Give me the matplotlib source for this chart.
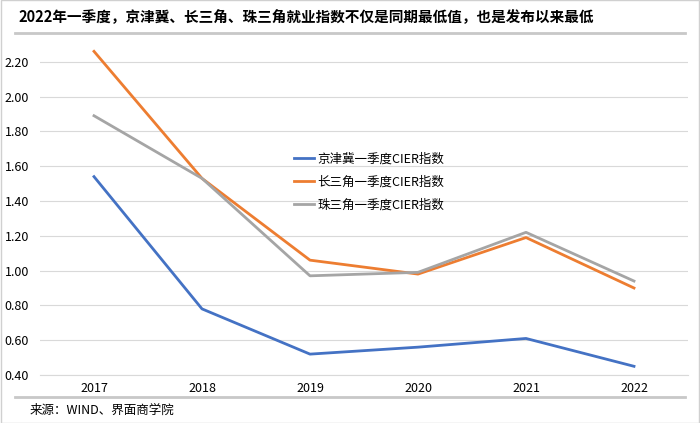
import matplotlib.pyplot as plt
from matplotlib.lines import Line2D

plt.rcParams['font.family'] = ['Noto Sans CJK SC', 'DejaVu Sans']

years = ['2017', '2018', '2019', '2020', '2021', '2022']
jjj = [1.54, 0.78, 0.52, 0.56, 0.61, 0.45]
csj = [2.26, 1.53, 1.06, 0.98, 1.19, 0.90]
zsj = [1.89, 1.53, 0.97, 0.99, 1.22, 0.94]
names = ['京津冀一季度CIER指数', '长三角一季度CIER指数', '珠三角一季度CIER指数']
colors = ['#4472C4', '#ED7D31', '#A5A5A5']
yticks = [0.40, 0.60, 0.80, 1.00, 1.20, 1.40, 1.60, 1.80, 2.00, 2.20]

fig = plt.figure(figsize=(7, 4.23), dpi=100)
ax = fig.add_axes([40 / 700, 1 - 375 / 423, 648 / 700, (375 - 45) / 423])

x = list(range(len(years)))
for vals, c in zip([jjj, csj, zsj], colors):
    ax.plot(x, vals, color=c, lw=2)

ax.set_xlim(-0.5, len(years) - 0.5)
ax.set_ylim(0.40, 0.40 + (375 - 45) / 174)
ax.set_yticks(yticks)
ax.set_yticklabels(['%.2f' % v for v in yticks], fontsize=9)
ax.set_xticks(x)
ax.set_xticklabels(years, fontsize=9)
ax.tick_params(axis='y', length=0, pad=8)
ax.tick_params(axis='x', length=0, pad=5)
ax.grid(axis='y', color='#D9D9D9', lw=0.8)
ax.set_axisbelow(True)
for s in ['top', 'right', 'left']:
    ax.spines[s].set_visible(False)
ax.spines['bottom'].set_color('#D9D9D9')

handles = [Line2D([], [], color=c, lw=2) for c in colors]
ax.legend(handles, names, loc='upper left', bbox_to_anchor=(283 / 700, 1 - 141 / 423),
          bbox_transform=fig.transFigure, frameon=False, fontsize=9,
          handlelength=1.6, handletextpad=0.25, labelspacing=0.8)

fig.text(18 / 700, 1 - 17 / 423, '2022年一季度，京津冀、长三角、珠三角就业指数不仅是同期最低值，也是发布以来最低',
         fontsize=10.5, fontweight='bold', va='center')
fig.add_artist(Line2D([15 / 700, 685 / 700], [1 - 33 / 423, 1 - 33 / 423],
                      color='#C8C8C8', lw=2, transform=fig.transFigure))
fig.add_artist(Line2D([15 / 700, 685 / 700], [1 - 397 / 423, 1 - 397 / 423],
                      color='#C8C8C8', lw=2, transform=fig.transFigure))
fig.text(30 / 700, 1 - 410 / 423, '来源：WIND、界面商学院', fontsize=9, va='center')
fig.patches.append(plt.Rectangle((0.001, 0.001), 0.998, 0.998, fill=False, ec='#D0D0D0',
                                 lw=1, transform=fig.transFigure, figure=fig))

fig.savefig('out.png', dpi=100)
